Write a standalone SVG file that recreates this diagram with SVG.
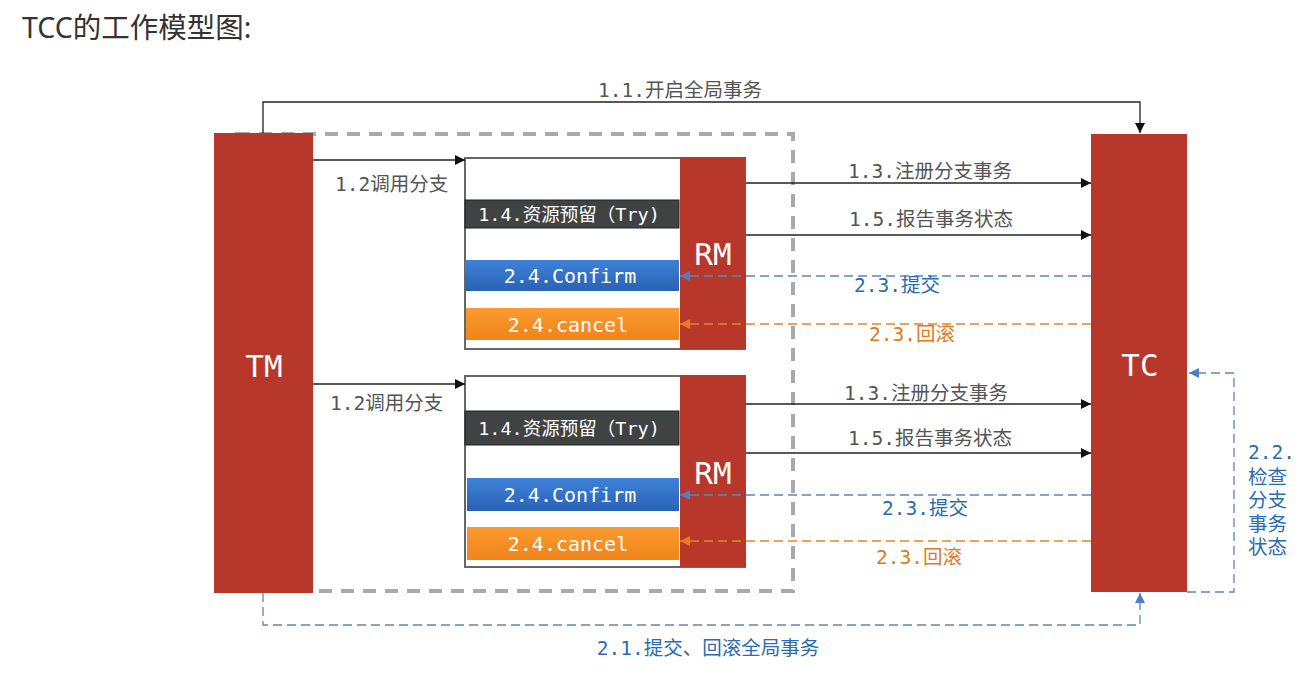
<svg xmlns="http://www.w3.org/2000/svg" width="1301" height="677" viewBox="0 0 1301 677">
<style>
.lbl{font-family:"DejaVu Sans Mono","Noto Sans CJK SC",monospace;font-size:19.5px;}
.gray{fill:#555;}
.blue{fill:#2a6cb0;}
.orange{fill:#dd7a22;}
.wt{fill:#fff;font-family:"DejaVu Sans Mono","Noto Sans CJK SC",monospace;font-size:20px;text-anchor:middle;}
.try{font-size:18.5px;}
.big{fill:#fff;font-family:"DejaVu Sans Mono","Noto Sans",monospace;font-size:31px;text-anchor:middle;}
.red{fill:#b7372a;}
.solid{fill:none;stroke:#222;stroke-width:1.3;}
.dblue{fill:none;stroke:#5a86c4;stroke-width:1.3;stroke-dasharray:9 5;}
.dorange{fill:none;stroke:#e8822e;stroke-width:1.3;stroke-dasharray:9 5;}
</style>
<defs>
<marker id="ab" viewBox="0 0 10 10" refX="10" refY="5" markerWidth="10" markerHeight="10" markerUnits="userSpaceOnUse" orient="auto"><path d="M0,0L10,5L0,10z" fill="#111"/></marker>
<marker id="abl" viewBox="0 0 10 10" refX="10" refY="5" markerWidth="10" markerHeight="10" markerUnits="userSpaceOnUse" orient="auto"><path d="M0,0L10,5L0,10z" fill="#4d7fc4"/></marker>
<marker id="aor" viewBox="0 0 10 10" refX="10" refY="5" markerWidth="10" markerHeight="10" markerUnits="userSpaceOnUse" orient="auto"><path d="M0,0L10,5L0,10z" fill="#ea7a1c"/></marker>
<linearGradient id="gb" x1="0" y1="0" x2="0" y2="1"><stop offset="0" stop-color="#3d82d8"/><stop offset="1" stop-color="#2a62b4"/></linearGradient>
<linearGradient id="go" x1="0" y1="0" x2="0" y2="1"><stop offset="0" stop-color="#fa9a30"/><stop offset="1" stop-color="#f0841a"/></linearGradient>
</defs>
<rect width="1301" height="677" fill="#fff"/>
<text x="22" y="38" font-family="'Noto Sans','Noto Sans CJK SC',sans-serif" font-size="28.5" fill="#333">TCC的工作模型图:</text>

<rect id="scope" x="237" y="134" width="556" height="457" fill="none" stroke="#a9a9a9" stroke-width="4" stroke-dasharray="13 9"/>

<g id="tm"><rect class="red" x="214" y="133" width="99" height="460"/><text class="big" x="264" y="377">TM</text></g>
<g id="tc"><rect class="red" x="1091" y="134" width="96" height="458"/><text class="big" x="1140" y="376">TC</text></g>

<g id="branch1">
<rect x="465" y="158" width="280" height="191" fill="#fff" stroke="#666" stroke-width="2"/>
<rect x="465" y="200" width="214" height="28" fill="#3f4343" stroke="#222" stroke-width="1"/>
<text class="wt try" x="569" y="221">1.4.资源预留（Try)</text>
<rect x="465" y="260" width="214" height="31" fill="url(#gb)"/>
<text class="wt" x="570" y="283">2.4.Confirm</text>
<rect x="466" y="308" width="213" height="32" fill="url(#go)"/>
<text class="wt" x="568" y="332">2.4.cancel</text>
<rect class="red" x="680" y="157" width="66" height="192"/>
<text class="big" x="713" y="265" font-size="27">RM</text>
</g>

<g id="branch2">
<rect x="465" y="376" width="280" height="191" fill="#fff" stroke="#666" stroke-width="2"/>
<rect x="465" y="411" width="214" height="34" fill="#3f4343" stroke="#222" stroke-width="1"/>
<text class="wt try" x="569" y="435">1.4.资源预留（Try)</text>
<rect x="467" y="478" width="212" height="33" fill="url(#gb)"/>
<text class="wt" x="570" y="502">2.4.Confirm</text>
<rect x="467" y="527" width="212" height="33" fill="url(#go)"/>
<text class="wt" x="568" y="551">2.4.cancel</text>
<rect class="red" x="680" y="375" width="66" height="192"/>
<text class="big" x="713" y="484" font-size="27">RM</text>
</g>

<g id="connectors">
<path class="solid" d="M263,133V102H1140V133" marker-end="url(#ab)"/>
<path class="solid" d="M313,160H465" marker-end="url(#ab)"/>
<path class="solid" d="M313,384H465" marker-end="url(#ab)"/>
<path class="solid" d="M746,183H1091" marker-end="url(#ab)"/>
<path class="solid" d="M746,235H1091" marker-end="url(#ab)"/>
<path class="solid" d="M746,404H1091" marker-end="url(#ab)"/>
<path class="solid" d="M746,453H1091" marker-end="url(#ab)"/>
<path class="dblue" d="M1091,276H680" marker-end="url(#abl)"/>
<path class="dorange" d="M1091,324H680" marker-end="url(#aor)"/>
<path class="dblue" d="M1091,495H680" marker-end="url(#abl)"/>
<path class="dorange" d="M1091,541H680" marker-end="url(#aor)"/>
<path class="dblue" d="M1187,592H1234V373H1189" marker-end="url(#abl)"/>
<path class="dblue" d="M263,593V625H1140V593" marker-end="url(#abl)"/>
</g>

<g id="labels">
<text class="lbl gray" x="680" y="97" text-anchor="middle">1.1.开启全局事务</text>
<text class="lbl gray" x="335" y="191">1.2调用分支</text>
<text class="lbl gray" x="330" y="410">1.2调用分支</text>
<text class="lbl gray" x="930" y="178" text-anchor="middle">1.3.注册分支事务</text>
<text class="lbl gray" x="931" y="226" text-anchor="middle">1.5.报告事务状态</text>
<text class="lbl blue" x="897" y="292" text-anchor="middle">2.3.提交</text>
<text class="lbl orange" x="912" y="341" text-anchor="middle">2.3.回滚</text>
<text class="lbl gray" x="926" y="400" text-anchor="middle">1.3.注册分支事务</text>
<text class="lbl gray" x="930" y="445" text-anchor="middle">1.5.报告事务状态</text>
<text class="lbl blue" x="925" y="515" text-anchor="middle">2.3.提交</text>
<text class="lbl orange" x="919" y="564" text-anchor="middle">2.3.回滚</text>
<text class="lbl blue" x="1248" y="459">2.2.</text>
<text class="lbl blue" x="1248" y="484">检查</text>
<text class="lbl blue" x="1248" y="507">分支</text>
<text class="lbl blue" x="1248" y="531">事务</text>
<text class="lbl blue" x="1248" y="554">状态</text>
<text class="lbl blue" x="708" y="655" text-anchor="middle">2.1.提交、回滚全局事务</text>
</g>
</svg>
